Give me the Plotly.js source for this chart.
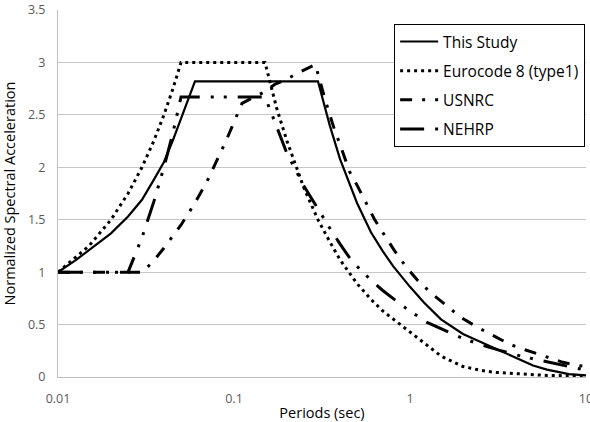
<!DOCTYPE html>
<html>
<head>
<meta charset="utf-8">
<script src="https://cdn.plot.ly/plotly-3.0.1.min.js"></script>
<style>html,body{margin:0;padding:0;background:#fff;}#chart{width:590px;height:422px;}</style>
</head>
<body>
<div id="chart"></div>
<script>
// Periods (sec) and normalized spectral accelerations
const studyT  = [0.01, 0.0125, 0.015, 0.02, 0.025, 0.03, 0.035, 0.04, 0.045, 0.05, 0.055, 0.06, 0.3, 0.35, 0.4, 0.45, 0.5, 0.6, 0.7, 0.8, 0.9, 1.0, 1.2, 1.5, 2.0, 2.5, 3.0, 4.0, 5.0, 6.0, 8.0, 10.0];
const studySa = [1.0, 1.11, 1.21, 1.37, 1.53, 1.69, 1.88, 2.05, 2.26, 2.46, 2.64, 2.82, 2.82, 2.40, 2.08, 1.86, 1.66, 1.38, 1.20, 1.06, 0.95, 0.86, 0.71, 0.55, 0.41, 0.335, 0.275, 0.18, 0.11, 0.07, 0.028, 0.015];

const ec8T  = [0.01, 0.015, 0.02, 0.025, 0.03, 0.035, 0.04, 0.045, 0.05, 0.15, 0.175, 0.2, 0.25, 0.3, 0.35, 0.4, 0.5, 0.6, 0.7, 0.8, 0.9, 1.0, 1.2, 1.5, 2.0, 2.5, 3.0, 4.0, 6.0, 10.0];
const ec8Sa = [1.0, 1.25, 1.5, 1.75, 2.0, 2.25, 2.5, 2.75, 3.0, 3.0, 2.56, 2.25, 1.8, 1.5, 1.29, 1.12, 0.89, 0.74, 0.63, 0.555, 0.49, 0.43, 0.32, 0.2, 0.1, 0.065, 0.045, 0.03, 0.015, 0.01];

const usnrcT  = [0.01, 0.0303, 0.035, 0.04, 0.05, 0.06, 0.07, 0.08, 0.09, 0.1, 0.111, 0.13, 0.15, 0.17, 0.2, 0.225, 0.25, 0.29, 0.33, 0.372, 0.4, 0.453, 0.5, 0.57, 0.628, 0.724, 0.816, 0.95, 1.1, 1.32, 1.6, 1.93, 2.4, 3.0, 3.7, 4.5, 5.0, 6.0, 7.4, 9.0, 10.0];
const usnrcSa = [1.0, 1.0, 1.11, 1.23, 1.45, 1.66, 1.86, 2.06, 2.25, 2.43, 2.61, 2.67, 2.72, 2.79, 2.84, 2.89, 2.93, 2.98, 2.64, 2.36, 2.22, 1.96, 1.83, 1.64, 1.505, 1.34, 1.205, 1.05, 0.925, 0.80, 0.685, 0.573, 0.477, 0.388, 0.311, 0.26, 0.235, 0.19, 0.14, 0.11, 0.10];

const nehrpT  = [0.01, 0.025, 0.03, 0.035, 0.04, 0.045, 0.05, 0.15, 0.17, 0.2, 0.25, 0.3, 0.35, 0.4, 0.45, 0.5, 0.6, 0.7, 0.8, 0.95, 1.25, 1.5, 1.7, 2.0, 2.5, 2.85, 3.2, 3.75, 4.5, 6.0, 8.0, 10.0];
const nehrpSa = [1.0, 1.0, 1.33, 1.67, 2.0, 2.33, 2.67, 2.67, 2.44, 2.13, 1.82, 1.6, 1.42, 1.27, 1.145, 1.055, 0.925, 0.825, 0.75, 0.655, 0.52, 0.46, 0.415, 0.368, 0.31, 0.285, 0.256, 0.224, 0.19, 0.145, 0.10, 0.065];

const seriesNames = ['This Study', 'Eurocode 8 (type1)', 'USNRC', 'NEHRP'];
const xTickVals = [0.01, 0.1, 1, 10];
const xTickText = ['0.01', '0.1', '1', '10'];

const traces = [
  {x: studyT, y: studySa, name: seriesNames[0], legendgroup: 'g1', mode: 'lines',
   line: {color: '#000000', width: 2.2}},
  {x: ec8T, y: ec8Sa, name: seriesNames[1], legendgroup: 'g2', mode: 'lines',
   line: {color: '#000000', width: 3, dash: '3px,4px'}},
  {x: usnrcT, y: usnrcSa, name: seriesNames[2], legendgroup: 'g3', mode: 'lines',
   line: {color: '#000000', width: 3, dash: '12px,10px,3px,10px'}},
  {x: nehrpT, y: nehrpSa, name: seriesNames[3], legendgroup: 'g4', mode: 'lines',
   line: {color: '#000000', width: 3, dash: '24px,11px,3px,10px,3px,11px'}}
];

const layout = {
  width: 590, height: 422,
  margin: {l: 58, r: 4, t: 10, b: 45},
  paper_bgcolor: '#ffffff', plot_bgcolor: '#ffffff',
  font: {family: '"Open Sans", sans-serif', color: '#000000'},
  showlegend: true,
  xaxis: {
    type: 'log', range: [-2, 1],
    tickvals: xTickVals, ticktext: xTickText,
    showgrid: false, zeroline: false,
    showline: true, linecolor: '#bfbfbf', linewidth: 1,
    ticks: '', ticklabelstandoff: 10, ticklabeloverflow: 'allow',
    tickfont: {size: 12.5, color: '#595959'},
    title: {text: 'Periods (sec)', font: {size: 14.5, color: '#000000'}, standoff: 6}
  },
  yaxis: {
    range: [0, 3.5], dtick: 0.5, tick0: 0,
    showgrid: true, gridcolor: '#c6c6c6', gridwidth: 1,
    zeroline: false, showline: true, linecolor: '#bfbfbf', linewidth: 1,
    ticks: '', ticklabelstandoff: 9,
    tickfont: {size: 12.5, color: '#595959'},
    title: {text: 'Normalized Spectral Acceleration', font: {size: 14.5, color: '#000000'}, standoff: 8}
  },
  legend: {
    x: 0.6366, y: 0.962, xanchor: 'left', yanchor: 'top',
    bgcolor: '#ffffff', bordercolor: '#000000', borderwidth: 1,
    font: {size: 15.5, color: '#000000'},
    itemwidth: 38,
    traceorder: 'grouped', tracegroupgap: 6
  }
};

Plotly.newPlot('chart', traces, layout, {displayModeBar: false, staticPlot: true});
</script>
</body>
</html>
